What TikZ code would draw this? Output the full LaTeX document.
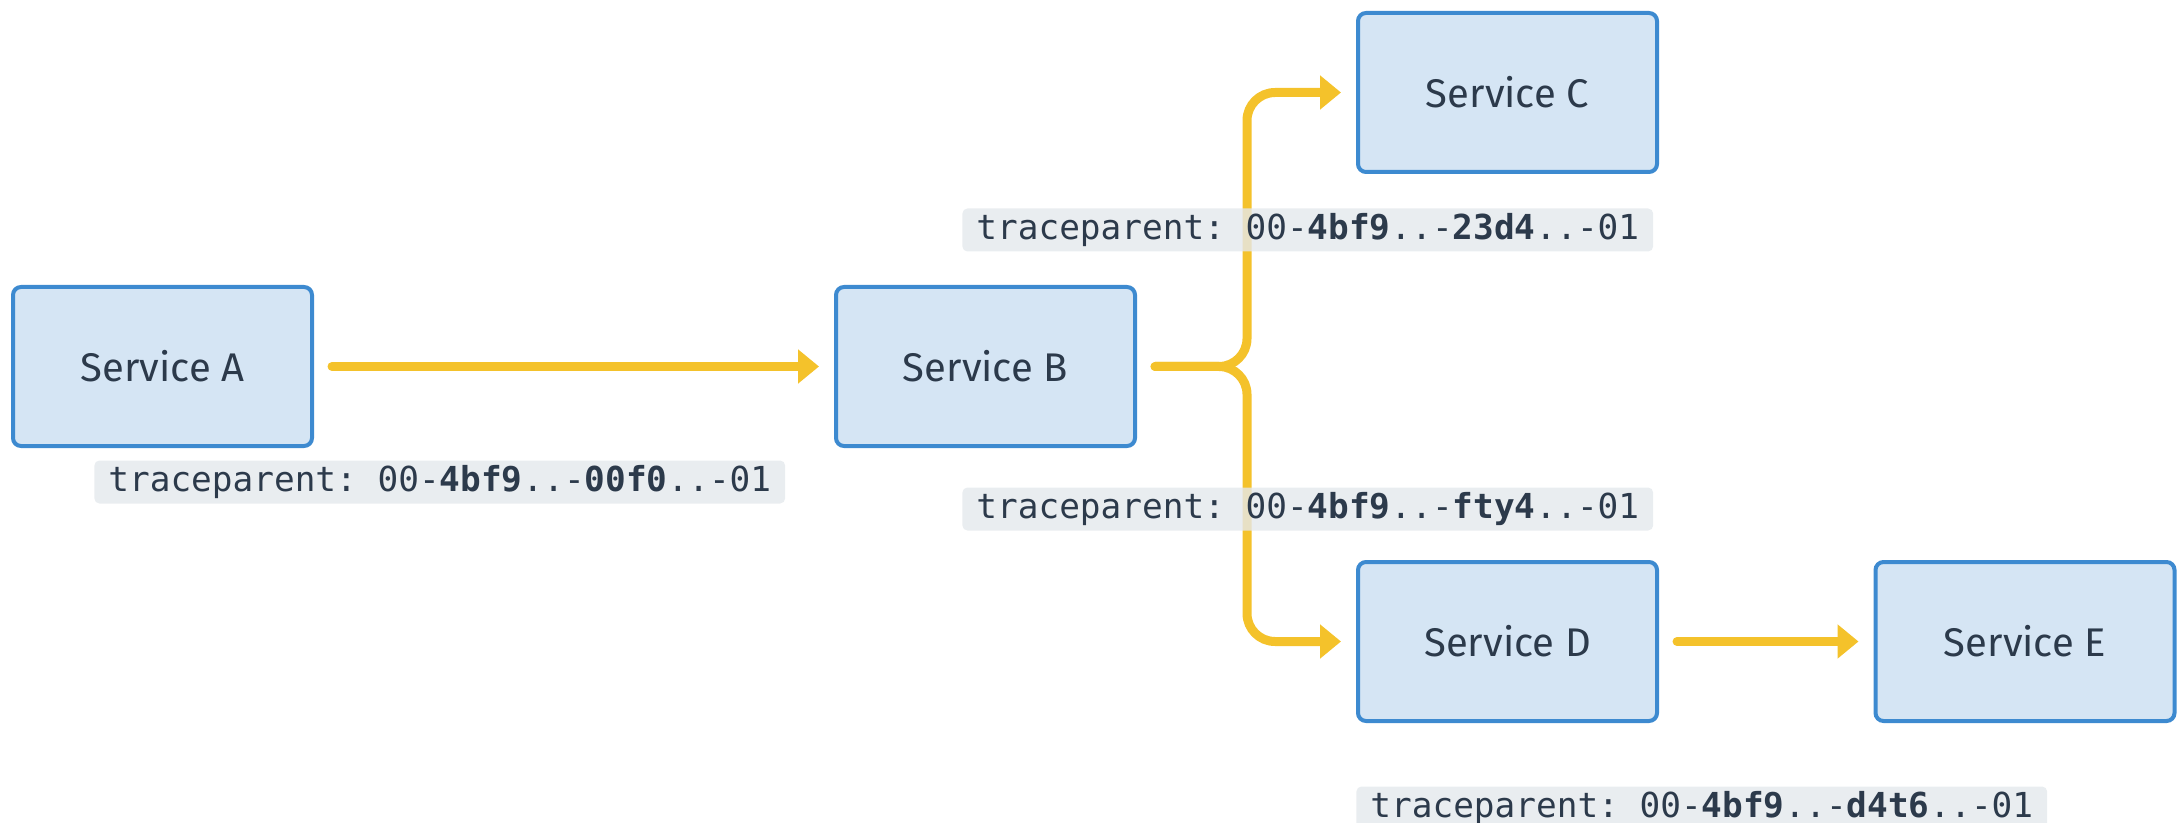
\documentclass[tikz,border=0pt]{standalone}
\usepackage{fontspec}
\setmainfont{Fira Sans}
\setmonofont{DejaVu Sans Mono}
\usetikzlibrary{arrows.meta}
\definecolor{boxfill}{HTML}{D5E5F4}
\definecolor{boxline}{HTML}{3D8AD0}
\definecolor{ink}{HTML}{2C3A4B}
\definecolor{flow}{HTML}{F4C22B}
\definecolor{tagfill}{HTML}{E4E8EC}
\begin{document}
\begin{tikzpicture}[x=0.5pt,y=-0.5pt,
  service/.style={draw=boxline, line width=2pt, fill=boxfill, rounded corners=4pt,
    minimum width=149.5pt, minimum height=79.5pt, inner sep=0pt, text=ink,
    font=\fontsize{20}{22}\selectfont},
  tag/.style={fill=tagfill, fill opacity=0.8, text opacity=1, rounded corners=2.5pt,
    inner xsep=7pt, inner ysep=0pt, minimum height=21.5pt, anchor=west, text=ink,
    font=\ttfamily\fontsize{17.2}{20}\selectfont},
  flowline/.style={draw=flow, line width=4.5pt, line cap=round, rounded corners=14pt,
    -{Triangle[length=10.5pt,width=16.5pt]}, shorten <=9pt, shorten >=7.5pt},
]
\useasboundingbox (0,0) rectangle (2177,823);

% services
\node[service] (A) at (162.5,366.5) {Service A};
\node[service] (B) at (985.5,366.5) {Service B};
\node[service] (C) at (1507.5,92.5) {Service C};
\node[service] (D) at (1507.5,641.5) {Service D};
\node[service] (E) at (2025,641.5) {Service E};

% calls between services
\coordinate (fork) at (1247,366.5);
\draw[flowline] (A) -- (B);
\draw[flowline] (B.east) -- (fork) |- (C.west);
\draw[flowline] (B.east) -- (fork) |- (D.west);
\draw[flowline] (D) -- (E);

% propagated trace headers
\node[tag] (tA) at (94,482) {traceparent: 00-\textbf{4bf9}..-\textbf{00f0}..-01};
\node[tag] (tC) at (962,230) {traceparent: 00-\textbf{4bf9}..-\textbf{23d4}..-01};
\node[tag] (tD) at (962,509) {traceparent: 00-\textbf{4bf9}..-\textbf{fty4}..-01};
\node[tag] (tE) at (1356,808) {traceparent: 00-\textbf{4bf9}..-\textbf{d4t6}..-01};
\end{tikzpicture}
\end{document}
